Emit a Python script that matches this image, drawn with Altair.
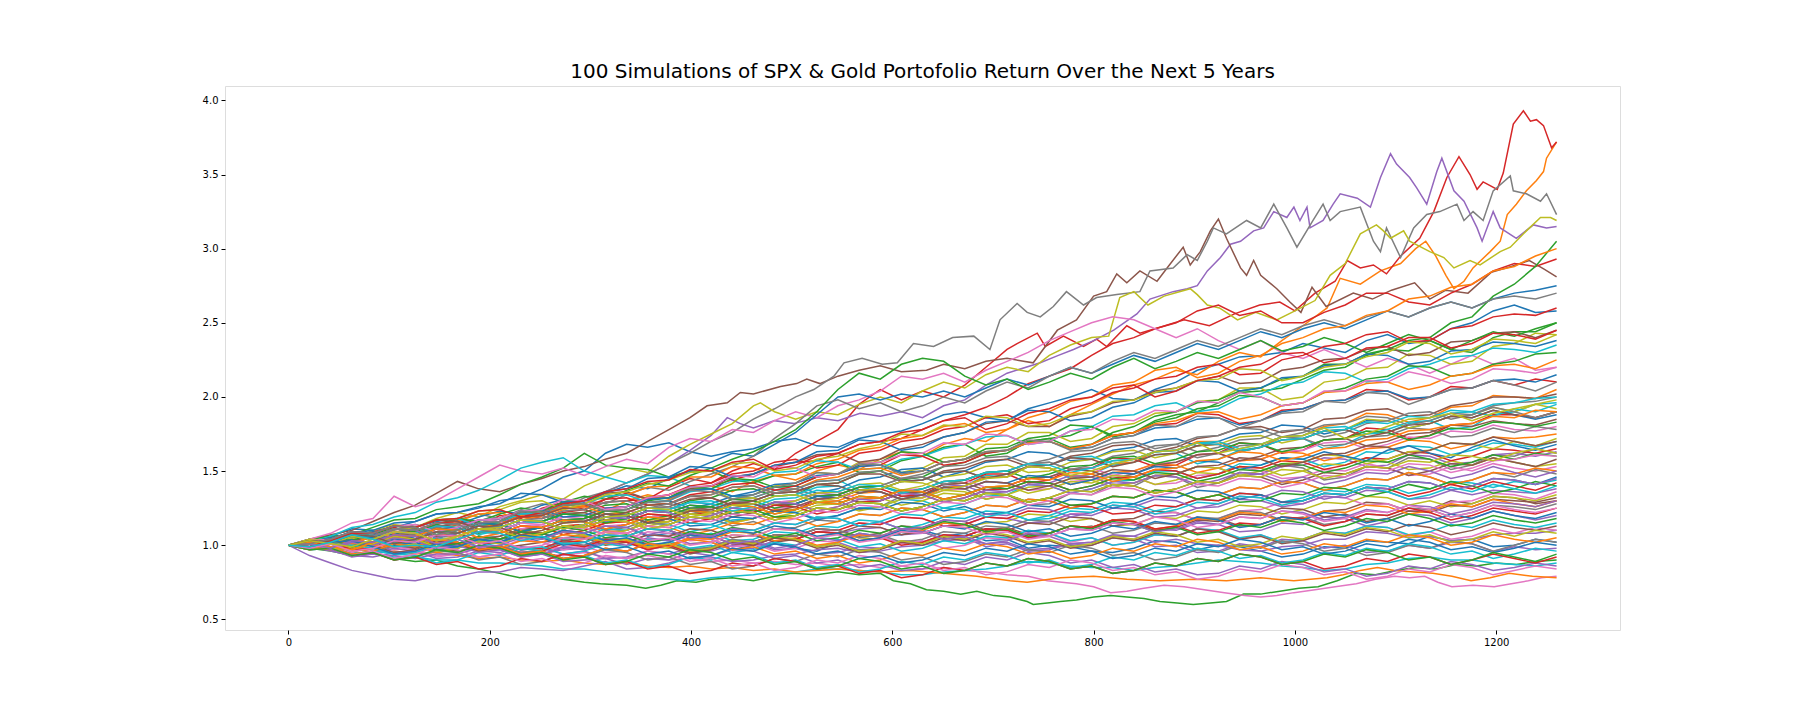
import altair as alt
import pandas as pd

TITLE = "100 Simulations of SPX & Gold Portofolio Return Over the Next 5 Years"
LAST_DAY = 1260

# matplotlib default colour cycle (simulation k uses TAB10[k % 10])
TAB10 = ["#1f77b4", "#ff7f0e", "#2ca02c", "#d62728", "#9467bd",
         "#8c564b", "#e377c2", "#7f7f7f", "#bcbd22", "#17becf"]

X_TICKS = [0, 200, 400, 600, 800, 1000, 1200]
Y_TICKS = [0.5, 1.0, 1.5, 2.0, 2.5, 3.0, 3.5, 4.0]

# ---- outer, clearly visible paths, read as (day, cumulative return) ----
ORANGE_TOP = [(0,1.00),(21,1.01),(42,1.03),(63,1.06),(84,1.04),(105,1.08),(126,1.11),(147,1.09),(168,1.14),(189,1.17),(210,1.15),(231,1.20),(252,1.18),(273,1.24),(294,1.27),(315,1.23),(336,1.30),(357,1.34),(378,1.31),(399,1.37),(420,1.40),(441,1.36),(462,1.43),(483,1.47),(504,1.44),(525,1.50),(546,1.54),(567,1.51),(588,1.58),(609,1.63),(630,1.60),(651,1.68),(672,1.72),(693,1.70),(714,1.78),(735,1.84),(756,1.80),(777,1.88),(798,1.95),(819,2.02),(840,2.08),(861,2.12),(882,2.18),(903,2.15),(924,2.24),(945,2.30),(966,2.27),(987,2.38),(1008,2.48),(1032,2.60),(1045,2.80),(1065,2.76),(1085,2.85),(1105,2.90),(1120,3.00),(1130,3.05),(1140,2.95),(1150,2.82),(1158,2.73),(1168,2.78),(1177,2.87),(1194,2.98),(1204,3.05),(1211,3.23),(1220,3.30),(1230,3.39),(1240,3.46),(1247,3.52),(1250,3.61),(1260,3.72)]

GREEN_LOW = [(0,1.00),(21,0.98),(42,0.96),(63,0.93),(84,0.95),(105,0.91),(126,0.89),(147,0.90),(168,0.86),(189,0.84),(210,0.81),(230,0.78),(252,0.80),(273,0.77),(294,0.75),(310,0.74),(336,0.73),(355,0.71),(370,0.73),(386,0.76),(405,0.75),(420,0.77),(441,0.78),(462,0.76),(483,0.79),(500,0.81),(525,0.80),(546,0.82),(567,0.80),(588,0.81),(601,0.76),(618,0.74),(634,0.70),(651,0.69),(668,0.67),(684,0.69),(701,0.66),(717,0.65),(734,0.62),(740,0.60),(754,0.61),(767,0.62),(783,0.63),(800,0.65),(817,0.66),(833,0.65),(850,0.64),(866,0.62),(883,0.61),(899,0.60),(916,0.61),(932,0.62),(949,0.67),(966,0.67),(985,0.69),(1004,0.71),(1023,0.72),(1042,0.76),(1061,0.81),(1080,0.80),(1100,0.83),(1120,0.85),(1140,0.84),(1160,0.87),(1180,0.86),(1200,0.88),(1220,0.87),(1240,0.89),(1260,0.90)]

RED_TOP = [(0,1.00),(21,1.03),(42,1.05),(63,1.04),(84,1.09),(105,1.12),(126,1.08),(147,1.14),(168,1.17),(189,1.13),(210,1.20),(231,1.18),(252,1.25),(273,1.29),(294,1.24),(315,1.31),(336,1.35),(357,1.31),(378,1.39),(399,1.45),(420,1.42),(441,1.50),(462,1.55),(483,1.51),(504,1.62),(525,1.70),(546,1.78),(567,1.95),(588,2.05),(609,1.98),(630,2.04),(651,2.00),(672,2.08),(693,2.20),(714,2.32),(724,2.36),(744,2.43),(752,2.34),(770,2.41),(790,2.34),(803,2.39),(813,2.34),(833,2.48),(846,2.43),(866,2.47),(890,2.52),(915,2.48),(940,2.56),(965,2.62),(985,2.64),(1000,2.58),(1020,2.70),(1040,2.78),(1052,2.92),(1065,2.87),(1078,2.89),(1091,2.83),(1105,2.95),(1124,3.07),(1138,3.25),(1151,3.48),(1163,3.62),(1174,3.50),(1181,3.40),(1187,3.45),(1201,3.40),(1207,3.51),(1217,3.84),(1227,3.93),(1234,3.86),(1240,3.87),(1247,3.83),(1255,3.68),(1260,3.72)]

PURPLE_TOP = [(0,1.00),(21,1.02),(42,0.99),(63,1.03),(84,1.06),(105,1.04),(126,1.09),(147,1.12),(168,1.08),(189,1.14),(210,1.18),(231,1.15),(252,1.21),(273,1.26),(294,1.30),(315,1.36),(336,1.42),(357,1.48),(378,1.55),(399,1.64),(420,1.74),(436,1.86),(449,1.82),(462,1.79),(483,1.84),(502,1.82),(525,1.86),(546,1.84),(568,1.89),(588,1.87),(609,1.90),(630,1.86),(651,1.94),(672,1.98),(693,2.08),(714,2.16),(747,2.23),(765,2.28),(780,2.32),(800,2.38),(820,2.45),(843,2.56),(856,2.66),(879,2.71),(893,2.73),(903,2.75),(913,2.85),(926,2.94),(936,3.03),(946,3.05),(959,3.12),(969,3.14),(979,3.25),(992,3.21),(999,3.28),(1005,3.19),(1012,3.28),(1015,3.14),(1028,3.19),(1038,3.30),(1045,3.37),(1062,3.34),(1075,3.28),(1085,3.48),(1095,3.64),(1101,3.57),(1114,3.48),(1121,3.41),(1131,3.30),(1141,3.52),(1146,3.61),(1158,3.39),(1168,3.32),(1181,3.14),(1186,3.05),(1197,3.25),(1204,3.14),(1220,3.07),(1237,3.16),(1250,3.14),(1260,3.15)]

BROWN_TOP = [(0,1.00),(21,1.04),(42,1.07),(63,1.10),(84,1.16),(105,1.22),(126,1.27),(147,1.35),(168,1.43),(189,1.38),(210,1.36),(231,1.41),(252,1.45),(273,1.50),(294,1.53),(315,1.58),(336,1.62),(357,1.70),(378,1.78),(399,1.86),(416,1.94),(436,1.96),(449,2.03),(462,2.02),(489,2.07),(505,2.09),(515,2.12),(528,2.09),(546,2.14),(567,2.18),(588,2.21),(609,2.17),(634,2.18),(651,2.22),(672,2.19),(693,2.24),(714,2.26),(740,2.23),(764,2.45),(783,2.52),(800,2.68),(813,2.71),(823,2.83),(833,2.77),(846,2.85),(863,2.78),(873,2.87),(889,3.01),(896,2.89),(906,2.98),(916,3.12),(924,3.20),(932,3.07),(946,2.87),(952,2.82),(959,2.92),(966,2.82),(982,2.73),(995,2.64),(1006,2.57),(1017,2.74),(1031,2.61),(1058,2.70),(1077,2.66),(1096,2.72),(1119,2.77),(1134,2.66),(1150,2.72),(1172,2.70),(1195,2.84),(1215,2.88),(1233,2.92),(1248,2.86),(1260,2.81)]

PINK_LOW = [(0,1.00),(21,0.98),(42,0.99),(63,0.96),(84,0.97),(105,0.95),(126,0.96),(147,0.93),(168,0.94),(189,0.92),(210,0.94),(231,0.96),(252,0.94),(273,0.93),(294,0.95),(315,0.92),(336,0.91),(357,0.93),(378,0.90),(399,0.91),(420,0.89),(441,0.90),(462,0.88),(483,0.89),(504,0.87),(525,0.88),(546,0.86),(567,0.87),(588,0.85),(609,0.86),(630,0.84),(651,0.85),(672,0.83),(693,0.82),(714,0.80),(735,0.79),(754,0.76),(783,0.74),(800,0.72),(817,0.68),(833,0.69),(850,0.71),(870,0.73),(890,0.72),(910,0.70),(930,0.68),(950,0.66),(966,0.65),(982,0.66),(999,0.68),(1020,0.70),(1040,0.72),(1061,0.74),(1080,0.77),(1099,0.79),(1114,0.78),(1129,0.79),(1142,0.75),(1156,0.72),(1177,0.73),(1198,0.72),(1215,0.74),(1232,0.76),(1245,0.78),(1260,0.79)]

GREY_TOP = [(0,1.00),(21,1.03),(42,1.05),(63,1.02),(84,1.07),(105,1.10),(126,1.14),(147,1.11),(168,1.17),(189,1.21),(210,1.18),(231,1.24),(252,1.28),(273,1.25),(294,1.32),(315,1.36),(336,1.42),(357,1.48),(378,1.55),(399,1.62),(420,1.70),(441,1.76),(462,1.85),(483,1.92),(504,2.00),(522,2.05),(542,2.14),(552,2.23),(570,2.26),(590,2.22),(605,2.23),(621,2.36),(641,2.34),(660,2.40),(681,2.41),(697,2.32),(707,2.52),(724,2.63),(734,2.57),(747,2.54),(760,2.61),(773,2.71),(790,2.62),(803,2.67),(823,2.69),(846,2.71),(856,2.85),(879,2.87),(893,2.96),(903,2.92),(913,3.05),(919,3.14),(932,3.10),(952,3.19),(966,3.14),(979,3.30),(992,3.14),(1002,3.01),(1018,3.19),(1028,3.30),(1035,3.19),(1045,3.25),(1065,3.28),(1078,3.05),(1085,2.98),(1091,3.14),(1105,2.94),(1118,3.14),(1131,3.23),(1144,3.25),(1161,3.30),(1168,3.19),(1177,3.25),(1187,3.19),(1197,3.39),(1214,3.49),(1217,3.39),(1230,3.37),(1244,3.32),(1250,3.37),(1260,3.23)]

OLIVE_TOP = [(0,1.00),(21,1.03),(42,1.06),(63,1.04),(84,1.10),(105,1.14),(126,1.12),(147,1.18),(168,1.22),(189,1.19),(210,1.26),(231,1.30),(252,1.34),(273,1.31),(294,1.40),(315,1.46),(336,1.52),(357,1.49),(378,1.60),(399,1.68),(420,1.75),(441,1.82),(462,1.94),(469,1.96),(483,1.90),(504,1.85),(525,1.90),(546,1.88),(567,1.95),(588,2.00),(609,1.96),(630,2.04),(651,2.10),(672,2.06),(693,2.15),(714,2.20),(735,2.17),(756,2.28),(777,2.35),(798,2.40),(815,2.41),(826,2.67),(840,2.71),(854,2.62),(870,2.68),(896,2.73),(903,2.69),(913,2.62),(925,2.60),(943,2.52),(961,2.57),(982,2.52),(1000,2.58),(1020,2.65),(1035,2.82),(1050,2.90),(1065,3.10),(1081,3.16),(1088,3.12),(1095,3.07),(1108,3.12),(1114,3.05),(1134,2.98),(1148,2.94),(1158,2.87),(1174,2.92),(1184,2.89),(1204,2.98),(1214,3.01),(1230,3.12),(1244,3.21),(1254,3.21),(1260,3.19)]

ORANGE_LOW = [(0,1.00),(21,0.99),(42,0.97),(63,0.98),(84,0.95),(105,0.96),(126,0.94),(147,0.95),(168,0.93),(189,0.91),(210,0.92),(231,0.90),(252,0.89),(273,0.90),(294,0.88),(315,0.87),(336,0.88),(357,0.86),(378,0.85),(399,0.86),(420,0.84),(441,0.85),(462,0.83),(483,0.84),(504,0.82),(525,0.83),(546,0.84),(568,0.83),(590,0.82),(618,0.83),(650,0.81),(684,0.79),(717,0.76),(734,0.75),(767,0.78),(800,0.79),(833,0.77),(866,0.76),(900,0.77),(932,0.76),(966,0.78),(999,0.76),(1032,0.78),(1048,0.80),(1065,0.83),(1082,0.85),(1099,0.83),(1118,0.82),(1137,0.81),(1156,0.79),(1175,0.76),(1194,0.78),(1213,0.81),(1236,0.79),(1260,0.78)]

NOTABLE = {1: ORANGE_TOP, 2: GREEN_LOW, 3: RED_TOP, 4: PURPLE_TOP, 5: BROWN_TOP,
           6: PINK_LOW, 7: GREY_TOP, 8: OLIVE_TOP, 11: ORANGE_LOW}

# ---- the dense bundle: cumulative return x100, read every ~21 trading days from day 0 to 1260 ----
BULK = [
    [100,104,106,111,110,112,116,121,122,125,130,132,138,146,150,162,168,166,169,163,160,163,165,170,172,167,166,172,175,177,182,188,190,186,184,192,196,200,205,199,198,205,210,218,222,227,228,230,236,233,230,238,242,236,238,246,250,258,262,257,258],
    [100,99,97,95,94,92,92,90,90,88,88,87,86,84,84,82,80,78,77,76,78,79,80,82,82,84,84,83,82,80,80,82,83,84,86,89,88,86,85,85,83,85,86,88,90,89,88,86,85,83,84,87,88,91,92,90,90,88,87,86,88],
    [100,98,103,104,99,95,96,101,100,99,104,106,102,104,108,113,112,106,108,107,104,97,100,101,98,96,102,108,106,107,110,106,108,103,104,98,100,99,96,95,98,103,102,97,100,99,96,92,94,99,98,103,102,101,106,103,104,99,100,104,102],
    [100,104,106,107,112,117,118,124,126,128,134,141,146,152,162,154,152,151,146,150,150,144,142,147,148,153,156,149,150,157,160,166,168,160,162,170,172,174,180,173,176,184,188,190,196,203,204,206,212,218,220,228,232,231,238,232,230,240,244,244,250],
    [100,103,102,101,106,109,110,106,108,113,114,119,118,122,124,129,130,131,134,139,140,144,148,153,156,157,162,168,170,172,178,184,188,193,200,209,214,219,228,236,240,246,250,258,262,255,258,250,250,257,262,270,270,264,262,270,276,285,290,288,293],
    [100,93,88,83,80,77,76,79,79,82,82,85,84,83,86,89,84,85,88,92,92,89,90,93,94,97,98,95,96,99,100,103,104,101,102,97,98,101,102,106,106,102,104,101,100,97,96,99,100,104,104,109,108,105,106,103,104,107,108,108,110],
    [100,101,98,101,102,98,100,97,96,99,98,100,102,105,106,102,104,101,100,96,98,100,102,107,106,111,110,106,108,113,112,117,116,110,112,107,108,113,112,117,118,123,122,117,118,113,114,119,118,123,124,129,128,123,124,130,128,133,132,128,130],
    [100,104,108,115,118,133,126,130,138,146,154,150,148,152,147,153,158,155,166,172,170,178,176,184,190,186,194,198,204,214,212,216,210,218,224,230,238,244,250,254,252,246,240,246,238,232,238,230,226,232,226,220,226,222,216,222,228,222,226,218,220],
    [100,103,104,99,100,104,106,111,110,105,106,110,112,117,116,110,112,117,118,124,122,116,118,123,124,129,130,124,126,133,132,139,138,131,134,127,128,135,134,141,140,147,146,139,142,149,148,154,152,144,146,153,152,159,158,151,154,161,160,165,162],
    [100,103,102,107,108,113,112,107,110,115,116,123,122,116,118,124,126,133,132,139,138,131,134,140,142,149,148,156,156,149,152,159,160,168,168,176,176,170,172,180,182,189,190,197,198,206,206,198,200,210,212,219,220,229,228,222,224,234,236,243,242],
    [100,102,106,112,114,119,122,129,132,137,144,152,156,159,150,146,142,147,146,140,138,133,132,137,138,143,144,137,140,136,134,139,140,147,146,153,152,145,148,154,156,161,162,155,158,164,166,173,172,165,168,175,176,182,184,178,180,188,190,195,196],
    [100,103,101,106,109,107,112,116,114,119,123,121,127,131,129,135,140,138,145,150,156,162,160,168,176,188,200,202,198,202,200,204,200,206,212,208,214,220,216,222,228,224,230,236,232,238,244,240,246,250,246,252,258,254,260,264,260,266,270,272,275],
    [100,103,101,97,98,103,102,107,106,102,104,110,108,113,114,109,110,116,116,121,120,115,118,124,124,129,130,135,136,131,132,139,140,146,146,153,152,146,148,155,156,163,164,170,170,163,166,173,174,180,182,189,188,183,186,193,194,201,200,199,205],
    [100,102,104,100,102,107,108,113,112,108,110,115,116,121,122,127,128,123,124,130,132,137,138,133,134,141,142,148,150,144,146,153,156,162,164,170,172,166,168,176,180,187,190,196,198,204,206,212,214,222,222,229,232,238,240,250,254,268,276,288,305],
    [100,101,98,99,102,107,106,103,104,109,110,105,108,113,114,119,120,115,116,121,122,128,128,123,124,131,132,137,138,133,134,141,142,148,148,142,144,151,152,159,158,153,154,161,162,169,168,162,164,171,172,179,178,172,174,181,182,188,188,186,190],
    [100,101,104,107,108,104,106,111,112,109,110,115,116,121,120,116,118,123,124,129,128,123,124,129,130,135,134,129,130,135,136,141,140,135,136,141,142,147,146,141,142,147,148,153,152,147,148,153,154,159,158,153,154,161,160,155,156,161,162,160,163],
    [100,103,102,103,106,111,112,117,118,115,116,122,124,129,130,135,136,131,132,138,140,146,148,154,156,161,162,156,158,165,168,173,176,182,184,180,180,187,190,196,198,204,206,211,214,209,210,218,220,225,226,232,234,228,230,237,238,243,244,240,245],
    [100,98,97,93,94,97,98,103,102,98,100,95,96,99,100,105,104,109,108,103,104,99,100,106,104,109,110,115,114,119,118,113,114,109,110,115,116,121,122,127,126,121,122,117,118,123,124,129,128,133,132,127,128,123,124,129,130,135,134,131,136],
    [100,102,104,101,106,109,107,112,115,113,118,122,120,126,130,128,134,139,137,143,148,153,160,172,182,194,198,192,196,190,194,200,196,204,210,206,214,220,216,224,230,226,232,238,234,240,246,242,248,252,248,254,258,254,260,264,260,266,268,266,270],
    [100,103,102,105,106,102,104,101,100,102,104,109,108,104,106,103,102,99,98,101,102,107,106,111,110,105,108,105,104,109,108,113,112,115,116,121,120,116,118,113,114,119,118,123,122,127,126,121,124,129,128,133,132,127,130,126,128,133,132,130,134],
    [100,97,98,102,100,95,96,101,100,103,104,109,108,104,106,111,110,115,114,109,112,117,118,123,122,118,120,125,126,131,130,125,128,133,134,141,140,135,138,143,144,150,150,145,148,155,154,159,158,153,156,163,162,167,166,161,164,169,168,166,170],
    [100,103,104,109,108,113,112,107,110,115,116,121,122,117,118,123,124,129,130,125,128,133,134,139,140,135,138,144,146,151,152,146,150,156,158,163,162,157,158,164,166,171,172,167,170,175,176,181,180,175,178,184,184,179,182,187,186,191,188,185,188],
    [100,103,102,101,106,111,110,115,116,121,122,117,120,126,128,133,134,139,140,146,146,153,152,147,148,155,158,164,166,172,174,180,182,176,178,186,190,197,200,208,210,218,220,213,216,224,228,236,240,246,248,255,258,266,268,274,276,285,288,295,300],
    [100,102,105,103,108,111,109,114,118,116,121,125,123,129,133,131,137,142,140,147,152,158,163,170,178,190,205,216,212,222,226,224,214,208,212,205,210,216,212,220,226,219,224,230,226,232,238,231,234,240,236,230,236,242,238,232,238,244,241,246,250],
    [100,103,102,107,108,103,104,109,110,115,116,121,122,128,130,125,126,132,134,140,142,148,150,156,158,152,154,162,164,170,172,178,180,186,188,182,184,192,196,203,206,212,214,220,222,215,216,225,228,234,236,242,244,237,238,246,248,254,256,255,260],
    [100,99,96,93,92,95,96,99,100,97,98,95,94,97,98,103,102,107,106,101,102,97,98,103,104,109,108,111,112,107,108,113,114,119,118,115,116,121,120,125,124,119,120,125,126,131,130,126,128,133,132,137,136,131,132,137,134,137,136,135,138],
    [100,102,104,99,102,107,108,113,114,109,110,115,116,121,122,117,120,125,126,131,132,127,130,135,136,141,142,148,148,143,144,150,152,157,158,153,154,160,162,167,168,163,166,172,174,179,180,176,178,185,186,191,192,187,188,194,196,200,200,199,202],
    [100,101,98,101,102,106,106,111,110,105,108,113,114,119,118,113,114,119,120,125,126,121,124,129,130,135,136,131,132,137,138,143,144,139,140,145,146,151,152,147,150,155,156,161,162,157,158,163,164,169,170,165,168,173,172,177,176,181,178,177,180],
    [100,99,103,108,107,102,104,109,110,115,116,121,120,115,118,123,124,129,128,123,126,131,132,137,138,133,134,139,140,145,146,141,144,149,150,155,156,151,152,157,158,163,164,159,162,167,168,173,172,167,168,173,174,179,178,173,174,179,176,180,178],
    [100,103,102,97,98,103,104,109,108,113,112,107,110,115,116,121,122,117,118,124,126,131,132,127,130,135,136,141,142,137,140,146,148,153,154,149,150,156,158,163,164,159,162,167,168,173,174,169,172,177,178,185,184,179,182,187,188,193,190,195,192],
    [100,99,103,106,108,113,112,117,118,113,116,121,122,127,128,133,134,129,130,136,138,143,144,149,150,157,156,151,152,158,160,165,168,173,174,168,170,177,180,187,188,194,196,190,192,199,202,208,210,217,216,210,212,219,222,227,228,233,232,230,235],
    [100,102,105,108,110,115,116,121,122,126,128,135,134,129,130,136,138,145,146,153,152,146,148,154,156,163,164,171,170,164,166,173,176,183,184,191,190,184,186,193,196,203,204,211,210,204,206,213,214,221,222,229,228,222,224,231,232,237,236,234,238],
    [100,103,101,106,104,99,100,105,104,109,108,113,112,107,110,115,116,121,120,115,118,123,124,129,128,123,126,131,132,137,136,131,134,139,140,145,146,141,144,149,150,155,154,149,152,157,158,163,162,157,160,165,166,171,170,165,168,173,172,173,175],
    [100,101,104,109,108,113,112,107,110,115,116,123,122,127,128,123,124,130,132,139,138,145,144,139,140,146,148,154,156,163,162,156,158,165,166,172,174,181,180,174,176,183,186,192,194,201,200,194,196,203,206,212,214,221,220,214,216,222,224,229,230],
    [100,99,102,107,106,111,110,115,116,111,114,119,120,125,126,131,132,127,128,134,136,141,142,137,140,146,148,153,154,161,160,154,156,162,164,169,170,165,168,174,176,181,182,189,188,182,184,191,192,197,198,205,204,198,200,207,206,211,208,212,210],
    [100,101,98,94,95,99,98,103,102,97,98,93,94,98,98,103,102,97,100,95,96,100,100,105,104,99,102,97,98,103,102,107,106,111,110,105,106,101,102,107,106,111,110,115,114,109,110,115,114,119,118,113,116,121,120,115,118,123,120,117,120],
    [100,103,102,98,100,105,104,109,108,103,106,111,112,117,116,111,114,119,120,125,124,119,122,127,128,133,134,129,130,135,136,141,142,137,140,145,146,151,150,145,148,154,156,161,162,157,160,165,166,171,172,167,170,175,176,181,180,184,182,181,185],
    [100,101,104,109,108,103,106,111,112,117,116,111,114,119,120,125,124,119,120,125,126,131,130,125,126,131,132,137,136,131,132,137,138,143,142,137,138,143,144,147,146,141,142,147,148,153,150,145,146,151,150,155,152,147,148,153,150,155,152,150,153],
    [100,97,98,103,102,107,106,101,104,109,110,115,116,111,114,119,120,125,126,121,124,129,130,135,136,131,134,139,140,145,146,141,144,149,150,155,156,151,154,160,162,167,168,163,166,171,172,177,178,173,176,182,184,189,190,185,188,194,196,197,200],
    [100,104,103,98,100,105,104,109,108,113,112,107,108,113,112,117,118,113,116,121,120,125,124,119,122,127,128,133,132,127,130,135,134,139,140,135,138,143,142,147,146,141,144,149,148,153,152,147,150,155,154,159,156,151,152,157,154,159,156,153,155],
    [100,98,101,106,104,109,108,113,112,107,110,115,116,121,120,115,118,123,124,129,130,125,128,133,134,139,140,135,138,143,144,149,150,145,148,153,154,159,160,155,158,163,164,169,170,165,168,173,174,179,180,175,178,183,184,189,190,187,192,190,195],
    [100,101,104,109,108,103,106,111,112,117,118,123,124,119,120,125,126,131,132,137,138,133,136,141,142,147,148,153,154,149,150,156,158,163,164,169,170,165,166,172,174,179,180,185,186,181,184,190,192,197,198,203,204,199,200,205,206,211,212,210,215],
    [100,103,102,101,106,111,110,105,108,113,114,119,120,125,126,121,122,127,128,133,134,139,140,135,138,144,146,151,152,147,150,156,158,163,164,169,170,165,168,174,176,182,184,189,190,185,188,194,196,203,204,209,210,205,208,214,216,221,222,219,225],
    [100,99,103,108,106,101,104,109,110,115,114,109,112,117,118,123,122,117,120,125,126,131,130,125,128,133,134,139,140,135,138,143,144,149,150,145,148,153,154,159,160,155,158,163,164,169,168,163,166,171,172,177,176,171,174,179,178,183,182,180,183],
    [100,101,98,97,102,107,106,101,104,109,108,113,112,107,110,115,116,121,120,115,118,123,122,127,126,121,124,129,130,135,134,129,132,137,138,143,142,137,140,145,146,151,150,145,148,153,152,157,156,151,154,159,158,163,162,157,160,165,164,162,165],
    [100,99,97,93,94,98,96,91,92,96,95,99,98,94,96,91,92,96,94,98,98,103,102,97,98,94,95,99,98,103,102,106,105,99,101,96,97,101,100,105,104,99,100,95,96,101,99,104,103,98,100,95,96,100,98,102,101,96,99,97,98],
    [100,99,102,106,104,99,102,107,106,111,110,105,108,113,112,117,116,111,114,119,118,123,122,117,120,125,124,129,128,123,126,131,130,135,134,129,132,137,136,141,140,135,138,143,142,147,146,141,144,149,148,153,152,147,150,155,154,159,156,153,158],
    [100,101,98,95,100,99,97,92,94,99,98,104,102,97,99,95,96,101,100,105,104,99,101,96,98,103,102,107,106,101,103,98,100,105,104,109,108,102,105,100,102,107,106,111,110,104,107,102,104,109,108,113,112,106,109,104,106,111,108,112,110],
    [100,103,102,107,106,100,104,99,100,105,104,109,108,113,112,107,110,115,114,119,118,113,116,111,112,117,116,121,120,125,124,119,122,127,126,131,130,125,128,133,132,137,136,131,134,139,138,143,142,137,140,145,144,149,146,141,144,149,146,151,148],
    [100,98,101,96,98,103,102,107,106,101,104,109,108,113,112,107,110,115,116,121,120,115,118,123,124,129,128,123,126,131,132,137,136,131,134,139,140,145,144,139,142,147,148,153,152,147,150,155,156,161,160,155,158,163,164,169,168,165,170,167,172],
    [100,102,99,94,96,101,100,105,104,99,102,97,98,103,102,107,106,111,110,105,108,103,104,109,108,113,112,117,116,111,114,119,118,123,122,117,120,125,124,129,128,123,126,131,130,135,134,129,132,137,136,141,140,135,138,143,142,139,143,141,144],
    [100,99,103,108,106,111,110,105,108,113,112,117,116,111,114,119,118,123,122,127,126,121,124,129,128,133,132,137,136,131,134,139,138,143,142,147,146,141,144,149,148,153,152,157,156,151,154,159,158,163,160,157,164,167,162,159,166,171,167,164,168],
    [100,101,98,93,96,101,100,95,98,103,102,107,106,101,104,109,108,113,112,107,110,115,114,119,118,113,116,121,120,125,124,119,122,127,126,131,130,125,128,133,132,137,136,131,134,139,138,143,142,137,140,145,144,149,146,141,144,149,148,152,150],
    [100,101,104,99,102,107,106,111,110,115,114,109,112,117,116,121,120,115,118,123,122,127,126,121,124,129,128,133,132,137,136,131,134,139,138,143,142,137,140,145,144,149,148,143,146,151,150,155,154,149,152,157,156,161,158,153,156,161,158,162,160],
    [100,99,102,97,98,103,102,107,106,101,102,97,98,103,102,107,106,111,110,105,106,101,102,107,106,111,110,115,114,119,118,113,114,119,118,123,122,127,126,121,122,127,126,131,130,135,134,129,130,135,134,139,138,133,136,141,138,143,140,137,142],
    [100,99,97,92,94,93,91,94,94,98,97,92,94,89,90,91,87,91,90,95,93,97,96,91,93,88,90,85,87,83,84,89,87,92,90,95,93,88,90,85,87,82,84,80,81,86,84,89,87,82,84,79,81,86,84,89,87,83,85,88,86],
    [100,98,102,103,100,95,97,102,100,106,104,109,108,103,105,100,102,107,106,111,110,105,107,102,104,109,108,113,112,107,109,104,106,111,110,115,114,119,118,113,115,110,112,117,116,121,120,125,124,119,121,116,118,123,122,127,126,131,130,129,132],
    [100,103,104,109,108,113,114,109,112,117,118,123,124,131,130,124,126,132,134,139,140,147,146,153,152,146,148,155,156,161,162,169,168,175,174,168,170,177,178,185,184,191,190,197,196,203,200,194,196,204,204,211,210,217,214,209,212,219,218,216,220],
    [100,102,98,93,95,100,98,103,102,97,100,95,97,102,100,105,104,99,102,97,99,104,102,107,106,111,110,105,107,102,104,109,108,113,112,117,116,111,113,108,110,115,114,119,118,123,122,117,119,114,116,121,120,125,124,119,122,127,126,124,128],
    [100,99,102,107,106,111,112,117,118,123,124,129,130,124,128,134,136,141,144,149,150,155,156,150,152,158,160,165,168,175,174,181,180,187,186,180,182,188,190,197,198,203,206,211,212,219,218,211,214,220,222,227,230,237,236,229,232,239,238,236,242],
    [100,98,101,100,98,94,95,99,98,103,102,97,99,94,96,101,99,104,103,98,100,95,97,102,100,105,104,99,101,96,98,103,101,106,105,110,108,103,105,100,102,107,106,111,110,105,107,102,104,109,108,113,112,107,109,114,112,117,114,112,115],
    [100,101,104,109,108,103,106,111,110,115,114,109,112,117,116,121,120,115,118,113,114,119,118,123,122,117,120,125,124,129,128,123,126,121,122,127,126,131,130,125,128,133,132,137,136,131,134,129,130,135,134,139,138,143,142,137,140,145,144,141,146],
    [100,99,97,102,100,99,104,102,101,96,98,103,102,107,106,101,103,98,100,105,104,109,108,103,105,100,102,107,106,111,110,115,114,109,111,106,108,113,112,117,116,111,113,118,117,122,121,116,118,123,122,127,126,121,123,128,126,131,128,126,130],
    [100,103,102,107,106,111,110,105,108,113,112,117,116,121,120,115,118,123,122,127,126,121,124,119,120,125,124,129,128,123,126,131,130,135,134,129,132,127,128,133,132,137,136,131,134,129,130,135,134,139,138,133,136,141,138,143,140,135,138,143,140],
    [100,101,98,97,101,106,104,99,102,97,99,94,96,101,99,104,102,97,100,95,97,102,100,105,104,109,108,103,105,100,102,107,106,111,110,105,108,113,112,117,116,111,113,108,110,115,114,119,118,113,116,121,120,125,122,117,120,125,123,121,125],
    [100,99,103,108,106,111,110,105,108,113,112,117,116,111,114,119,118,123,122,117,120,125,124,129,128,123,126,131,130,135,134,129,132,137,136,141,140,135,138,143,142,147,146,141,144,149,148,143,146,141,144,149,148,153,150,145,148,153,149,146,150],
    [100,101,98,93,96,101,98,103,101,96,99,94,96,91,93,98,96,101,99,94,97,102,100,105,103,98,100,95,97,102,100,105,103,108,106,101,103,98,100,105,103,108,106,111,109,104,106,101,103,108,106,111,109,114,112,107,110,115,112,110,113],
    [100,99,102,107,104,109,108,103,106,111,110,115,114,109,112,107,108,113,112,117,116,121,120,115,118,123,122,127,126,121,124,129,128,133,132,127,130,135,134,139,138,133,136,141,140,145,144,139,142,147,146,151,150,155,154,149,152,157,158,161,160],
    [100,101,98,94,95,90,92,96,95,90,92,87,89,94,92,97,95,90,92,87,89,84,86,91,89,94,92,97,95,90,92,87,89,94,92,97,95,100,98,93,95,90,92,97,95,100,98,103,101,96,98,93,95,100,98,103,101,96,100,104,102],
    [100,98,101,106,104,99,101,96,98,103,101,106,104,109,107,102,104,99,101,96,98,103,101,106,104,99,101,96,98,103,101,106,104,109,107,102,104,99,101,106,104,109,107,102,104,99,101,106,104,109,107,112,110,105,107,102,104,109,106,110,108],
    [100,101,98,93,96,94,93,88,90,95,93,98,96,91,93,88,90,85,87,92,90,95,93,88,90,85,87,82,84,89,87,92,90,95,93,88,90,85,87,92,90,95,93,98,96,91,93,88,90,95,93,98,96,101,99,94,96,91,94,98,96],
    [100,99,102,107,105,100,102,97,99,104,102,107,105,110,108,103,105,100,102,107,105,110,108,113,111,106,108,103,105,110,108,113,111,116,114,109,111,106,108,113,111,116,114,119,117,112,114,119,117,122,120,115,118,113,116,121,118,123,120,118,122],
    [100,97,99,94,96,101,99,104,102,97,99,94,96,91,93,98,96,101,99,104,102,97,99,94,96,91,93,88,90,95,93,98,96,101,99,94,96,91,93,98,96,101,99,104,102,97,99,94,96,101,99,104,102,107,105,100,102,107,104,102,105],
    [100,101,103,108,106,101,104,99,101,106,104,109,107,112,110,105,107,102,104,109,107,112,110,105,108,103,105,110,108,113,111,116,114,109,111,106,108,113,111,116,114,109,112,107,109,114,112,117,115,110,113,118,116,121,118,113,115,120,117,115,118],
    [100,101,98,93,95,90,92,87,89,84,86,91,89,94,92,87,89,84,86,81,83,88,86,91,89,84,86,81,83,78,80,85,83,88,86,91,89,84,86,81,83,88,86,91,89,94,92,87,89,84,86,91,89,94,92,87,90,94,91,88,92],
    [100,101,97,102,100,105,103,98,100,95,97,92,94,99,97,102,100,105,103,108,106,101,103,98,100,105,103,108,106,111,109,104,106,101,103,108,106,111,110,115,114,109,111,116,114,119,118,123,122,117,119,124,122,127,126,121,124,129,128,126,130],
    [100,101,104,109,108,113,112,117,116,111,114,119,120,125,124,119,122,127,128,133,132,127,130,135,136,141,140,135,138,143,144,149,150,145,148,153,154,159,158,153,156,161,162,167,168,163,166,171,172,177,178,173,176,181,182,187,186,191,188,186,190],
    [100,101,98,93,96,91,94,99,97,92,94,89,91,86,88,93,91,96,94,89,91,86,88,83,85,90,88,93,91,86,88,83,85,80,82,87,85,90,88,83,85,80,82,77,79,84,82,87,85,80,82,77,79,84,82,87,85,80,83,86,84],
    [100,99,103,108,106,111,110,115,114,109,112,117,118,123,124,129,130,125,128,133,134,139,140,135,138,143,144,149,150,145,148,153,154,159,160,155,158,163,164,169,170,165,168,173,174,179,178,173,176,181,182,187,186,181,184,189,188,193,190,186,190],
    [100,101,98,97,101,106,104,99,106,111,110,105,108,113,112,117,116,111,114,119,118,123,122,117,120,125,124,129,128,123,126,131,130,135,134,129,132,137,136,141,140,135,138,143,142,147,146,151,150,145,148,153,152,157,156,161,160,157,162,165,162],
    [100,98,102,107,106,101,104,109,108,113,112,117,116,111,114,119,120,125,124,129,128,123,126,131,132,137,136,141,140,135,138,143,144,149,150,155,154,149,152,157,158,163,164,169,168,163,166,171,172,177,178,183,182,187,186,191,190,195,196,199,200],
    [100,98,102,103,99,94,96,101,99,104,102,107,105,100,102,97,99,94,96,91,93,98,96,101,99,94,96,91,93,88,90,95,93,98,96,101,99,94,96,91,93,98,96,101,99,104,102,97,99,94,96,101,99,104,102,97,99,95,98,102,100],
    [100,102,99,97,102,107,106,111,110,105,108,113,112,117,116,111,114,119,118,123,122,127,126,121,124,129,128,133,132,137,136,131,134,139,140,145,144,149,148,143,146,151,152,157,158,163,162,157,160,165,166,171,172,177,178,181,182,187,186,191,190],
    [100,97,98,93,95,90,92,97,95,100,98,93,95,90,92,87,89,94,92,97,95,90,92,87,89,84,86,91,89,84,86,81,83,88,86,91,89,84,86,81,83,88,86,91,89,94,92,87,89,94,92,97,95,90,92,87,90,95,92,89,94],
    [100,99,103,108,108,113,112,117,118,123,124,119,122,128,130,136,138,143,144,151,150,156,158,151,154,160,162,168,170,176,178,184,186,178,182,189,192,198,200,206,208,200,204,211,214,220,222,229,230,223,226,233,234,240,240,233,236,243,242,239,245],
    [100,101,98,103,102,107,106,101,104,99,100,105,104,109,108,113,112,107,110,105,106,111,110,115,114,119,118,113,116,111,112,117,116,121,120,125,124,119,122,127,126,131,130,125,128,133,132,137,136,131,134,139,138,143,142,137,140,145,144,141,145],
    [100,103,102,107,106,101,104,109,108,113,112,107,110,115,116,121,120,115,118,123,124,129,128,123,126,131,132,137,136,131,134,139,138,143,142,137,140,145,146,151,150,145,148,153,154,159,158,153,156,161,162,167,166,161,164,169,168,173,170,167,170],
    [100,98,101,96,98,103,102,107,106,101,103,98,100,105,104,109,108,103,105,100,102,107,106,111,110,105,107,102,104,109,108,113,112,107,109,104,106,111,110,115,114,119,117,112,114,119,118,123,121,116,118,123,122,127,124,119,122,127,124,122,125],
    [100,101,104,109,108,113,112,107,110,115,116,123,122,127,128,123,124,129,130,137,136,131,134,139,142,149,148,155,154,148,150,156,158,163,164,171,170,164,166,172,174,181,180,187,186,179,184,189,190,197,196,203,202,195,200,205,206,211,208,204,210],
    [100,103,101,99,104,109,108,103,106,111,112,117,116,111,114,119,120,125,124,119,122,127,128,133,134,129,132,137,138,143,142,137,140,145,146,153,152,147,150,155,158,163,164,169,162,165,168,173,174,179,172,175,180,185,186,189,184,189,192,195,198],
    [100,99,102,107,104,99,100,99,104,109,108,103,106,101,102,107,106,111,110,115,114,109,110,115,114,119,118,113,116,121,120,125,124,119,122,117,118,123,122,127,126,121,124,129,128,133,132,127,130,135,134,139,136,131,134,139,136,141,138,135,140],
]

records = []
bulk_iter = iter(BULK)
for k in range(100):
    if k in NOTABLE:
        pts = NOTABLE[k]
    else:
        vals = next(bulk_iter)
        n = len(vals)
        pts = [(round(i * LAST_DAY / (n - 1)), v / 100.0) for i, v in enumerate(vals)]
    for d, v in pts:
        records.append({"sim": k, "day": d, "value": v, "col": TAB10[k % 10]})
df = pd.DataFrame(records)

axis_common = dict(
    grid=False, domain=False, ticks=True, tickColor="black", tickSize=4, tickWidth=1,
    labelFont="DejaVu Sans", labelFontSize=10, labelColor="black", labelPadding=3,
    title=None,
)

chart = (
    alt.Chart(df)
    .mark_line(strokeWidth=1.5, clip=True)
    .encode(
        x=alt.X("day:Q",
                scale=alt.Scale(domain=[-63, 1323], nice=False, zero=False),
                axis=alt.Axis(values=X_TICKS, format="d", **axis_common)),
        y=alt.Y("value:Q",
                scale=alt.Scale(domain=[0.428, 4.097], nice=False, zero=False),
                axis=alt.Axis(values=Y_TICKS, format=".1f", **axis_common)),
        color=alt.Color("col:N", scale=None, legend=None),
        detail="sim:N",
        order="day:Q",
    )
    .properties(
        width=1395,
        height=544,
        title=alt.TitleParams(TITLE, font="DejaVu Sans", fontSize=20, fontWeight="normal",
                              color="black", anchor="middle", frame="group",
                              offset=6, dy=18, baseline="alphabetic"),
        padding={"left": 217, "top": 78, "right": 172, "bottom": 82},
        autosize=alt.AutoSizeParams(type="none"),
    )
    .configure_view(stroke="black", strokeWidth=1)
    .configure(background="white")
)

chart.save("out.html", embed_options={"renderer": "svg", "actions": False})
